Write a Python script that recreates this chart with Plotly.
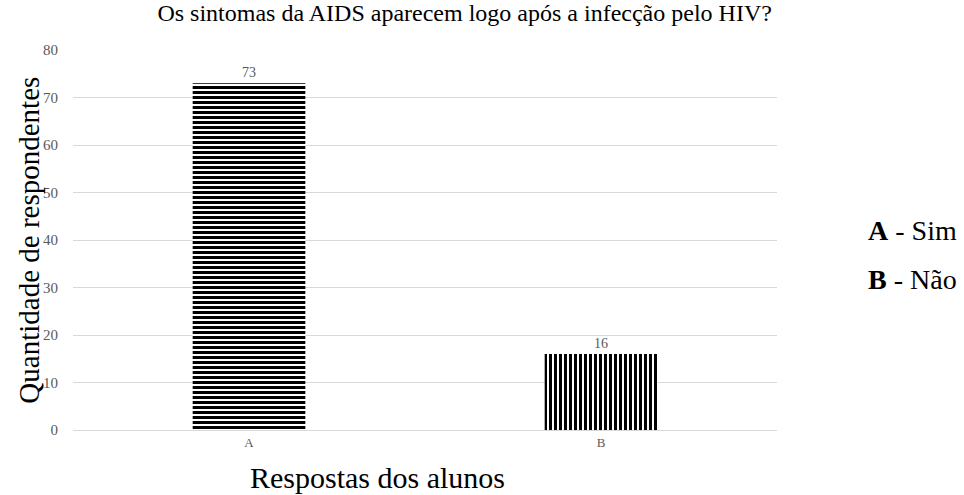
import plotly.graph_objects as go

categories = ["A", "B"]
values = [73, 16]
patterns = ["-", "|"]
legend_lines = ["<b>A</b> - Sim", "<b>B</b> - Não"]

font = "Liberation Serif, Times New Roman, serif"

fig = go.Figure()
fig.add_trace(go.Bar(
    x=categories, y=values,
    width=0.32,
    marker=dict(
        color="white",
        line=dict(width=0),
        pattern=dict(shape=patterns, fgcolor="black", bgcolor="white", size=5, solidity=0.6,
                     fgopacity=1),
    ),
    text=[str(v) for v in values],
    textposition="outside",
    textfont=dict(family=font, size=14, color="#595959"),
    cliponaxis=False,
))

fig.update_layout(
    width=964, height=495,
    margin=dict(l=73, r=187, t=50, b=65),
    paper_bgcolor="white", plot_bgcolor="white",
    showlegend=False,
    font=dict(family=font),
    title=dict(text="Os sintomas da AIDS aparecem logo após a infecção pelo HIV?",
               x=0.482, xanchor="center", y=0.975, yanchor="middle",
               font=dict(family=font, size=24, color="black")),
)
fig.update_yaxes(range=[0, 80], dtick=10, showgrid=True, gridcolor="#d9d9d9", gridwidth=1,
                 zeroline=False, showline=False,
                 tickfont=dict(family=font, size=15, color="#595959"),
                 ticklabelstandoff=14)
fig.update_xaxes(showgrid=False, showline=True, linecolor="#d9d9d9", linewidth=1,
                 tickfont=dict(family=font, size=13, color="#595959"))

fig.add_annotation(text="Quantidade de respondentes", xref="paper", yref="paper",
                   x=-0.063, y=0.5, textangle=-90, showarrow=False,
                   xanchor="center", yanchor="middle",
                   font=dict(family=font, size=29, color="black"))
fig.add_annotation(text="Respostas dos alunos", xref="paper", yref="paper",
                   x=0.433, y=-0.126, showarrow=False, xanchor="center", yanchor="middle",
                   font=dict(family=font, size=30, color="black"))
legend_y = [0.524, 0.395]
for line, ly in zip(legend_lines, legend_y):
    fig.add_annotation(text=line, xref="paper", yref="paper",
                       x=1.127, y=ly, showarrow=False, xanchor="left",
                       yanchor="middle", font=dict(family=font, size=28, color="black"))

fig.write_html("out.html", config={"displayModeBar": False},
               post_script="document.body.style.margin='0';")
